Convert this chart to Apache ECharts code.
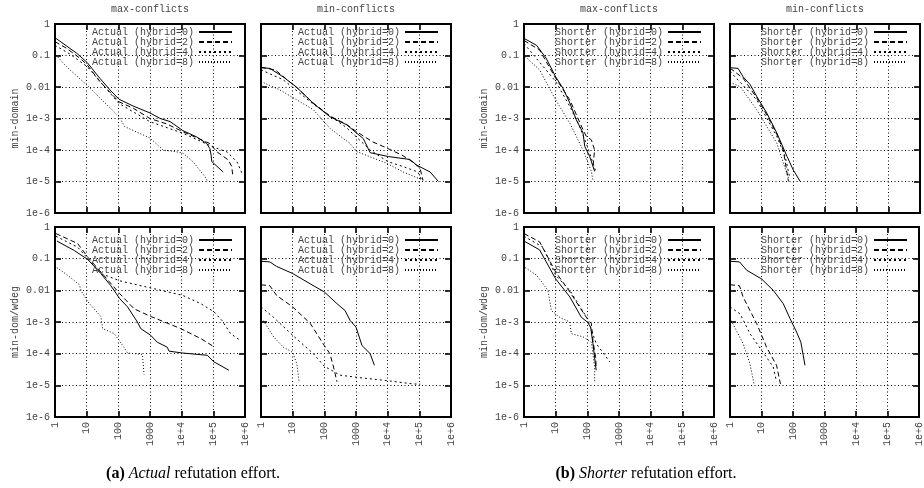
<!DOCTYPE html>
<html>
<head>
<meta charset="utf-8">
<script src="https://cdn.jsdelivr.net/npm/echarts@6/dist/echarts.min.js"></script>
<style>
  html, body { margin: 0; padding: 0; background: #fff; }
  #chart { width: 924px; height: 488px; }
</style>
</head>
<body>
<div id="chart"></div>
<script>
// (a) Actual, max-conflicts, min-domain
const actMaxDom0 = [[1.07,0.35],[4.9,0.117],[10.5,0.059],[26,0.019],[55,0.008],[105,0.0041],[290,0.0025],[1000,0.0015],[2100,0.001],[4300,8e-4],[11000,4.1e-4],[30000,2.6e-4],[62000,1.6e-4],[78000,1.1e-4],[85000,7e-5],[89000,4.3e-5],[205000,2e-5]];
const actMaxDom2 = [[1,0.275],[2.3,0.17],[6.2,0.081],[10.5,0.05],[26,0.015],[105,0.0034],[300,0.0021],[1000,0.001],[3400,6.7e-4],[11000,3.8e-4],[78000,1.6e-4],[127000,8.9e-5],[300000,4.8e-5],[380000,3e-5],[410000,1.6e-5]];
const actMaxDom4 = [[1,0.21],[3,0.11],[10.5,0.044],[105,0.003],[1000,7.9e-4],[11000,3.4e-4],[98000,1.25e-4],[270000,8.7e-5],[560000,4.2e-5],[790000,1.9e-5]];
const actMaxDom8 = [[1.07,0.104],[2.3,0.044],[10.2,0.0115],[105,0.00114],[160,5.5e-4],[1000,2.4e-4],[2600,1e-4],[7100,8.7e-5],[11000,8e-5],[23000,4.2e-5],[55000,1.4e-5],[68000,9.6e-6]];

// (a) Actual, min-conflicts, min-domain
const actMinDom0 = [[1,0.041],[1.9,0.039],[5,0.021],[13.4,0.0098],[45,0.003],[150,0.00114],[510,6.3e-4],[1700,2.3e-4],[2800,8.2e-5],[10500,6.2e-5],[50000,5e-5],[83000,3.3e-5],[220000,2e-5],[400000,1e-5]];
const actMinDom2 = [[1,0.042],[2.8,0.035],[5.5,0.02],[14,0.0092],[45,0.0031],[150,0.0012],[500,6.5e-4],[1050,3.8e-4],[3400,1.8e-4],[9500,1.15e-4],[28000,6.9e-5],[50000,4.8e-5],[105000,2.7e-5],[130000,1.1e-5]];
const actMinDom4 = [[1,0.035],[5,0.017],[44,0.0029],[480,5.3e-4],[2800,1e-4],[10000,4.3e-5],[30000,3e-5],[91000,2e-5],[118000,1.1e-5]];
const actMinDom8 = [[1,0.015],[4,0.008],[45,0.0019],[150,4.9e-4],[650,1.6e-4],[1050,8.9e-5],[9300,3.8e-5],[31000,2e-5],[132000,1.1e-5]];

// (a) Actual, max-conflicts, min-dom/wdeg
const actMaxWdeg0 = [[1.15,0.36],[4.1,0.18],[11,0.093],[28,0.034],[58,0.014],[110,0.0055],[195,0.003],[400,0.001],[510,6.2e-4],[1050,3.8e-4],[1700,2.3e-4],[3500,1.6e-4],[4000,1.2e-4],[10500,1.05e-4],[64000,8.9e-5],[105000,5.5e-5],[310000,3e-5]];
const actMaxWdeg2 = [[1.07,0.62],[5.2,0.3],[11,0.11],[28,0.038],[110,0.0079],[316,0.0026],[1050,0.0015],[9300,6.2e-4],[40000,3e-4],[92000,1.8e-4],[98000,1.55e-4]];
const actMaxWdeg4 = [[1.07,0.51],[5.2,0.23],[11,0.1],[28,0.034],[110,0.02],[1000,0.012],[10500,0.007],[40000,0.0038],[105000,0.0021],[190000,0.0011],[350000,4.3e-4],[720000,2.6e-4]];
const actMaxWdeg8 = [[1.15,0.052],[2.5,0.03],[5.9,0.015],[6.6,0.01],[11,0.0043],[28,0.0015],[32,6.2e-4],[74,4.3e-4],[150,1.6e-4],[195,1.05e-4],[575,9.5e-5],[650,2.2e-5]];

// (a) Actual, min-conflicts, min-dom/wdeg
const actMinWdeg0 = [[1,0.083],[1.9,0.079],[3.1,0.057],[10,0.034],[36,0.016],[100,0.0089],[250,0.0038],[450,0.0023],[660,0.0011],[1000,6.9e-4],[1550,1.8e-4],[2800,1e-4],[3800,4.3e-5]];
const actMinWdeg2 = [[1,0.015],[1.9,0.014],[3.1,0.0069],[10,0.003],[36,9e-4],[100,1.8e-4],[150,1e-4],[195,3.8e-5],[250,1.3e-5]];
const actMinWdeg4 = [[1,0.003],[2.5,0.0014],[10,3.8e-4],[45,1e-4],[100,4e-5],[316,2.1e-5],[1000,1.8e-5],[10000,1.4e-5],[66000,1.1e-5],[107000,1.1e-5]];
const actMinWdeg8 = [[1.2,0.0011],[2.5,3.4e-4],[5.1,1.6e-4],[10,1.1e-4],[13.5,4.8e-5],[16,1.3e-5]];

// (b) Shorter, max-conflicts, min-domain
const shoMaxDom0 = [[1,0.35],[2.5,0.21],[5,0.082],[10,0.021],[17,0.0091],[28,0.0031],[45,9e-4],[73,3.5e-4],[83,1.3e-4],[118,6.3e-5],[170,2.1e-5]];
const shoMaxDom2 = [[1,0.3],[3.1,0.15],[10,0.019],[28,0.0039],[73,4.4e-4],[93,2.7e-4],[134,2.1e-4],[170,1e-4],[150,3e-5]];
const shoMaxDom4 = [[1,0.24],[10,0.015],[28,0.0024],[57,5.6e-4],[100,1.3e-4],[150,3.9e-5],[190,1.9e-5]];
const shoMaxDom8 = [[1.1,0.093],[3.1,0.035],[10,0.0039],[28,7.1e-4],[73,1e-4],[134,2.1e-5],[150,1.1e-5]];

// (b) Shorter, min-conflicts, min-domain
const shoMinDom0 = [[1,0.041],[1.8,0.039],[2.6,0.021],[4.3,0.012],[7,0.005],[14.5,0.0015],[30,3.5e-4],[63,6.3e-5],[100,2.3e-5],[165,1e-5]];
const shoMinDom2 = [[1,0.04],[2.6,0.019],[7,0.0045],[14.5,0.0013],[30,3.2e-4],[48,1e-4],[70,1e-5]];
const shoMinDom4 = [[1,0.031],[7,0.0039],[30,2.7e-4],[55,6.3e-5],[75,1.5e-5]];
const shoMinDom8 = [[1,0.014],[2.1,0.0103],[7,0.0019],[30,1.66e-4],[70,1.3e-5]];

// (b) Shorter, max-conflicts, min-dom/wdeg
const shoMaxWdeg0 = [[1,0.36],[3.1,0.19],[10,0.023],[28,0.0062],[65,0.0014],[100,0.001],[127,6.9e-4],[150,2.1e-4],[190,3e-5]];
const shoMaxWdeg2 = [[1,0.62],[3.1,0.34],[10,0.038],[28,0.0089],[93,0.0014],[134,9e-4],[150,2.6e-4],[182,7.9e-5],[190,4e-5]];
const shoMaxWdeg4 = [[1,0.51],[4,0.23],[10,0.03],[28,0.01],[100,0.0013],[190,2.1e-4],[510,5.5e-5]];
const shoMaxWdeg8 = [[1.1,0.052],[2.5,0.03],[5.7,0.01],[7.3,0.0023],[13.4,0.0014],[28,0.001],[31,4.3e-4],[73,3.4e-4],[134,2.3e-4],[170,3.8e-5],[170,1.3e-5]];

// (b) Shorter, min-conflicts, min-dom/wdeg
const shoMinWdeg0 = [[1,0.083],[2,0.079],[3.4,0.043],[10,0.023],[23.6,0.01],[49,0.0038],[80,0.0013],[130,4.8e-4],[178,2.3e-4],[240,4.3e-5]];
const shoMinWdeg2 = [[1,0.015],[2,0.014],[2.6,0.0062],[4.3,0.0023],[7,9e-4],[14.5,1.6e-4],[30,4.3e-5],[40,1.1e-5]];
const shoMinWdeg4 = [[1,0.003],[2.1,0.0018],[4.3,4.3e-4],[10,1.3e-4],[23.6,3.8e-5],[30,1.3e-5]];
const shoMinWdeg8 = [[1.1,0.0011],[2.6,2.1e-4],[4.3,4.8e-5],[5.8,1.1e-5]];

const hybrids = [0, 2, 4, 8];
const xTickLabels = { 0: '1', 1: '10', 2: '100', 3: '1000', 4: '1e+4', 5: '1e+5', 6: '1e+6' };
const yTickLabels = { 0: '1', '-1': '0.1', '-2': '0.01', '-3': '1e-3', '-4': '1e-4', '-5': '1e-5', '-6': '1e-6' };

const mono = 'Liberation Mono';
const textGray = '#444';
const dashes = ['solid', [5, 3], [2, 3], [1, 2]];

// panel layout
const panels = [
  { left: 55,  top: 24,  h: 189, prefix: 'Actual',  yName: 'min-domain',   yLabels: true,  xLabels: false, legendRight: 691, data: [actMaxDom0, actMaxDom2, actMaxDom4, actMaxDom8] },
  { left: 261, top: 24,  h: 189, prefix: 'Actual',  yName: '',             yLabels: false, xLabels: false, legendRight: 485, data: [actMinDom0, actMinDom2, actMinDom4, actMinDom8] },
  { left: 55,  top: 227, h: 190, prefix: 'Actual',  yName: 'min-dom/wdeg', yLabels: true,  xLabels: true,  legendRight: 691, data: [actMaxWdeg0, actMaxWdeg2, actMaxWdeg4, actMaxWdeg8] },
  { left: 261, top: 227, h: 190, prefix: 'Actual',  yName: '',             yLabels: false, xLabels: true,  legendRight: 485, data: [actMinWdeg0, actMinWdeg2, actMinWdeg4, actMinWdeg8] },
  { left: 524, top: 24,  h: 189, prefix: 'Shorter', yName: 'min-domain',   yLabels: true,  xLabels: false, legendRight: 222, data: [shoMaxDom0, shoMaxDom2, shoMaxDom4, shoMaxDom8] },
  { left: 730, top: 24,  h: 189, prefix: 'Shorter', yName: '',             yLabels: false, xLabels: false, legendRight: 16,  data: [shoMinDom0, shoMinDom2, shoMinDom4, shoMinDom8] },
  { left: 524, top: 227, h: 190, prefix: 'Shorter', yName: 'min-dom/wdeg', yLabels: true,  xLabels: true,  legendRight: 222, data: [shoMaxWdeg0, shoMaxWdeg2, shoMaxWdeg4, shoMaxWdeg8] },
  { left: 730, top: 227, h: 190, prefix: 'Shorter', yName: '',             yLabels: false, xLabels: true,  legendRight: 16,  data: [shoMinWdeg0, shoMinWdeg2, shoMinWdeg4, shoMinWdeg8] }
];

const tick = { show: true, inside: true, length: 6, lineStyle: { color: '#000', width: 1.6 } };
const dotted = { show: true, lineStyle: { color: '#000', width: 1, type: [1, 2.5] } };
const labelFont = { fontFamily: mono, fontSize: 10, color: textGray };

const grid = [], xAxis = [], yAxis = [], series = [], legend = [];

panels.forEach((p, i) => {
  grid.push({ left: p.left, top: p.top, width: 190, height: p.h, show: true,
    borderColor: '#000', borderWidth: 2, backgroundColor: 'transparent' });

  // bottom + mirrored top axis
  xAxis.push({ gridIndex: i, type: 'log', logBase: 10, min: 1, max: 1e6, position: 'bottom',
    axisLine: { show: false }, axisTick: tick, splitLine: dotted, minorTick: { show: false },
    axisLabel: Object.assign({ show: p.xLabels, rotate: 90, margin: 5,
      formatter: v => xTickLabels[Math.round(Math.log10(v))] }, labelFont) });
  xAxis.push({ gridIndex: i, type: 'log', logBase: 10, min: 1, max: 1e6, position: 'top',
    axisLine: { show: false }, axisTick: tick, splitLine: { show: false }, axisLabel: { show: false } });

  // left + mirrored right axis
  yAxis.push({ gridIndex: i, type: 'log', logBase: 10, min: 1e-6, max: 1, position: 'left',
    name: p.yName, nameLocation: 'middle', nameGap: 35, nameRotate: 90, nameTextStyle: labelFont,
    axisLine: { show: false }, axisTick: tick, splitLine: dotted,
    axisLabel: Object.assign({ show: p.yLabels, margin: 5,
      formatter: v => yTickLabels[Math.round(Math.log10(v))] }, labelFont) });
  yAxis.push({ gridIndex: i, type: 'log', logBase: 10, min: 1e-6, max: 1, position: 'right',
    axisLine: { show: false }, axisTick: tick, splitLine: { show: false }, axisLabel: { show: false } });

  const names = hybrids.map(h => `${p.prefix} (hybrid=${h})`);
  p.data.forEach((d, k) => {
    series.push({
      name: names[k], type: 'line', xAxisIndex: 2 * i, yAxisIndex: 2 * i,
      data: d, symbol: 'none', silent: true, animation: false,
      itemStyle: { color: 'transparent' },
      lineStyle: { color: '#000', width: 1, type: dashes[k] },
      emphasis: { disabled: true }
    });
  });

  legend.push({
    data: names, orient: 'vertical', align: 'right', right: p.legendRight,
    top: p.top === 24 ? 27 : 235, padding: 0, itemGap: 0, itemWidth: 33, itemHeight: 8,
    selectedMode: false,
    textStyle: { fontFamily: mono, fontSize: 10, color: textGray, lineHeight: 10 }
  });
});

const titleFont = { fontFamily: mono, fontSize: 10, color: textGray, fontWeight: 'normal' };
const serif = 'Liberation Serif';
const captionStyle = { fontFamily: serif, fontSize: 16, color: '#000', fontWeight: 'normal',
  rich: { b: { fontFamily: serif, fontSize: 16, fontWeight: 'bold', color: '#000' },
          i: { fontFamily: serif, fontSize: 16, fontStyle: 'italic', color: '#000' } } };
const title = [
  { text: 'max-conflicts', left: 150, top: 4, padding: 0, textAlign: 'center', textStyle: titleFont },
  { text: 'min-conflicts', left: 356, top: 4, padding: 0, textAlign: 'center', textStyle: titleFont },
  { text: 'max-conflicts', left: 619, top: 4, padding: 0, textAlign: 'center', textStyle: titleFont },
  { text: 'min-conflicts', left: 825, top: 4, padding: 0, textAlign: 'center', textStyle: titleFont },
  { text: '{b|(a)} {i|Actual} refutation effort.', left: 188, top: 461, textAlign: 'center', textStyle: captionStyle },
  { text: '{b|(b)} {i|Shorter} refutation effort.', left: 641, top: 461, textAlign: 'center', textStyle: captionStyle }
];

const chart = echarts.init(document.getElementById('chart'), null, { renderer: 'canvas' });
chart.setOption({
  animation: false,
  backgroundColor: '#fff',
  title, legend, grid, xAxis, yAxis, series
});
</script>
</body>
</html>
